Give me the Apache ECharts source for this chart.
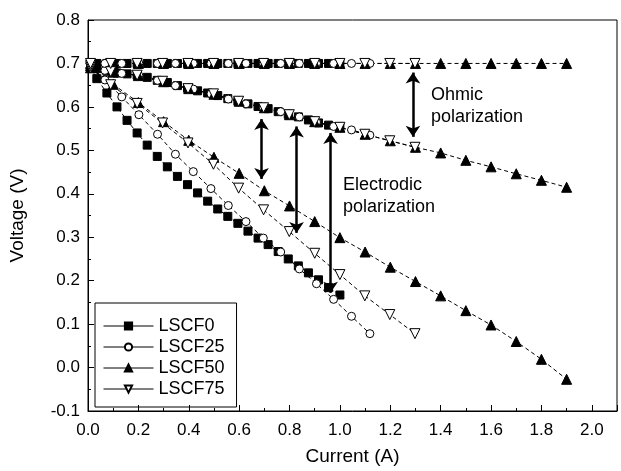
<!DOCTYPE html>
<html>
<head>
<meta charset="utf-8">
<script src="https://cdn.jsdelivr.net/npm/echarts@6/dist/echarts.min.js"></script>
<style>
  html, body { margin: 0; padding: 0; background: #fff; }
  #main { width: 621px; height: 471px; }
</style>
</head>
<body>
<div id="main"></div>
<script>
var FONT = 'Liberation Sans, Arial, sans-serif';

// LSCF0 (filled squares)
var lscf0Current = [0.01, 0.035, 0.075, 0.115, 0.155, 0.195, 0.235, 0.275, 0.315, 0.355, 0.395, 0.435, 0.475,
    0.515, 0.555, 0.595, 0.635, 0.675, 0.715, 0.755, 0.795, 0.835, 0.875, 0.915, 0.955, 1.0];
var lscf0Voltage = [0.690, 0.665, 0.632, 0.600, 0.569, 0.540, 0.512, 0.486, 0.462, 0.440, 0.421, 0.402, 0.383,
    0.365, 0.348, 0.332, 0.314, 0.298, 0.283, 0.267, 0.250, 0.234, 0.218, 0.202, 0.184, 0.167];
var lscf0IrFree = [0.695, 0.688, 0.682, 0.678, 0.676, 0.673, 0.668, 0.661, 0.656, 0.649, 0.643, 0.637, 0.632,
    0.626, 0.619, 0.613, 0.607, 0.601, 0.596, 0.589, 0.583, 0.577, 0.570, 0.563, 0.558, 0.553];
var lscf0Ocv = [0.70, 0.70, 0.70, 0.70, 0.70, 0.70, 0.70, 0.70, 0.70, 0.70, 0.70, 0.70, 0.70,
    0.70, 0.70, 0.70, 0.70, 0.70, 0.70, 0.70, 0.70, 0.70, 0.70, 0.70, 0.70, 0.70];

// LSCF25 (open circles)
var lscf25Current = [0.01, 0.067, 0.134, 0.202, 0.276, 0.347, 0.418, 0.488, 0.557, 0.627, 0.696, 0.765, 0.839,
    0.907, 0.975, 1.046, 1.119];
var lscf25Voltage = [0.690, 0.662, 0.623, 0.582, 0.537, 0.491, 0.451, 0.412, 0.373, 0.336, 0.298, 0.266, 0.227,
    0.193, 0.157, 0.118, 0.078];
var lscf25IrFree = [0.695, 0.684, 0.677, 0.672, 0.661, 0.649, 0.641, 0.630, 0.618, 0.607, 0.598, 0.589, 0.577,
    0.565, 0.555, 0.547, 0.535];
var lscf25Ocv = [0.70, 0.70, 0.70, 0.70, 0.70, 0.70, 0.70, 0.70, 0.70, 0.70, 0.70, 0.70, 0.70,
    0.70, 0.70, 0.70, 0.70];

// LSCF50 (filled triangles)
var lscf50Current = [0.01, 0.1, 0.2, 0.3, 0.4, 0.5, 0.6, 0.7, 0.8, 0.9, 1.0, 1.1, 1.2, 1.3, 1.4, 1.5, 1.6, 1.7, 1.8, 1.9];
var lscf50Voltage = [0.690, 0.652, 0.610, 0.566, 0.523, 0.484, 0.447, 0.407, 0.372, 0.336, 0.299, 0.266, 0.231,
    0.198, 0.165, 0.131, 0.098, 0.060, 0.019, -0.027];
var lscf50IrFree = [0.695, 0.680, 0.672, 0.658, 0.642, 0.629, 0.613, 0.598, 0.582, 0.566, 0.553, 0.537, 0.522,
    0.507, 0.494, 0.477, 0.462, 0.446, 0.431, 0.415];
var lscf50Ocv = [0.70, 0.70, 0.70, 0.70, 0.70, 0.70, 0.70, 0.70, 0.70, 0.70, 0.70, 0.70, 0.70,
    0.70, 0.70, 0.70, 0.70, 0.70, 0.70, 0.70];

// LSCF75 (open down triangles)
var lscf75Current = [0.01, 0.09, 0.195, 0.296, 0.397, 0.498, 0.598, 0.697, 0.799, 0.9, 1.0, 1.099, 1.198, 1.298];
var lscf75Voltage = [0.690, 0.651, 0.608, 0.563, 0.517, 0.468, 0.413, 0.363, 0.313, 0.263, 0.214, 0.165, 0.122, 0.078];
var lscf75IrFree = [0.695, 0.681, 0.673, 0.659, 0.642, 0.630, 0.613, 0.598, 0.582, 0.566, 0.553, 0.537, 0.522, 0.507];
var lscf75Ocv = [0.70, 0.70, 0.70, 0.70, 0.70, 0.70, 0.70, 0.70, 0.70, 0.70, 0.70, 0.70, 0.70, 0.70];

// double arrows: [current, top voltage, bottom voltage]
var arrowPositions = [
    [0.689, 0.572, 0.434],
    [0.828, 0.555, 0.310],
    [0.963, 0.540, 0.172],
    [1.290, 0.679, 0.531]
];

var seriesNames = ['LSCF0', 'LSCF25', 'LSCF50', 'LSCF75'];

function pairs(xs, ys) {
    return xs.map(function (x, i) { return [x, ys[i]]; });
}

var markerStyles = {
    LSCF0: { symbol: 'rect', size: 8, fill: '#000' },
    LSCF25: { symbol: 'circle', size: 8, fill: '#fff' },
    LSCF50: { symbol: 'triangle', size: 10, fill: '#000' },
    LSCF75: { symbol: 'path://M0,0 L10,0 L5,9 Z', size: 10, fill: '#fff' }
};

var curves = [
    ['LSCF0', lscf0Current, [lscf0Voltage, lscf0IrFree, lscf0Ocv]],
    ['LSCF25', lscf25Current, [lscf25Voltage, lscf25IrFree, lscf25Ocv]],
    ['LSCF50', lscf50Current, [lscf50Voltage, lscf50IrFree, lscf50Ocv]],
    ['LSCF75', lscf75Current, [lscf75Voltage, lscf75IrFree, lscf75Ocv]]
];

var series = [];
curves.forEach(function (c) {
    var m = markerStyles[c[0]];
    c[2].forEach(function (ys) {
        series.push({
            name: c[0],
            type: 'line',
            data: pairs(c[1], ys),
            symbol: m.symbol,
            symbolSize: m.size,
            showAllSymbol: true,
            itemStyle: { color: m.fill, borderColor: '#000', borderWidth: 1 },
            lineStyle: { color: '#000', width: 1, type: [4, 3] }
        });
    });
});

// arrows drawn in data coordinates
series.push({
    type: 'line',
    data: [],
    silent: true,
    markLine: {
        silent: true,
        symbol: ['arrow', 'arrow'],
        symbolSize: 11,
        label: { show: false },
        lineStyle: { color: '#000', width: 2.5, type: 'solid' },
        emphasis: { disabled: true },
        data: arrowPositions.map(function (a) {
            return [{ coord: [a[0], a[1]] }, { coord: [a[0], a[2]] }];
        })
    }
});

var myChart = echarts.init(document.getElementById('main'));
var option = {
    animation: false,
    backgroundColor: '#fff',
    grid: {
        left: 88, right: 4, top: 20, bottom: 60,
        show: true, borderColor: '#000', borderWidth: 1
    },
    legend: {
        data: seriesNames,
        orient: 'vertical',
        left: 95,
        top: 303,
        padding: [14, 12, 9, 8],
        itemGap: 3,
        itemWidth: 50,
        itemHeight: 9,
        borderColor: '#000',
        borderWidth: 1,
        lineStyle: { type: 'solid', width: 1, color: '#000' },
        textStyle: { fontFamily: FONT, fontSize: 18, color: '#000', lineHeight: 17 }
    },
    xAxis: {
        type: 'value',
        min: 0,
        max: 2.1,
        interval: 0.2,
        name: 'Current (A)',
        nameLocation: 'middle',
        nameGap: 36,
        nameTextStyle: { fontFamily: FONT, fontSize: 19, color: '#000' },
        axisLine: { onZero: false, lineStyle: { color: '#000', width: 1 } },
        axisTick: { inside: true, length: 6, lineStyle: { color: '#000' } },
        minorTick: { show: true, splitNumber: 2, length: 3, lineStyle: { color: '#000' } },
        splitLine: { show: false },
        axisLabel: {
            showMaxLabel: false,
            margin: 11,
            fontFamily: FONT, fontSize: 17, color: '#000',
            formatter: function (v) { return v.toFixed(1); }
        }
    },
    yAxis: {
        type: 'value',
        min: -0.1,
        max: 0.8,
        interval: 0.1,
        name: 'Voltage (V)',
        nameLocation: 'middle',
        nameGap: 61,
        nameTextStyle: { fontFamily: FONT, fontSize: 19, color: '#000' },
        axisLine: { onZero: false, lineStyle: { color: '#000', width: 1 } },
        axisTick: { inside: true, length: 6, lineStyle: { color: '#000' } },
        minorTick: { show: true, splitNumber: 2, length: 3, lineStyle: { color: '#000' } },
        splitLine: { show: false },
        axisLabel: {
            margin: 8,
            fontFamily: FONT, fontSize: 17, color: '#000',
            formatter: function (v) { return v.toFixed(1); }
        }
    },
    graphic: [
        {
            type: 'text', left: 431, top: 84,
            style: { text: 'Ohmic\npolarization', font: '18px ' + FONT, lineHeight: 22, fill: '#000' }
        },
        {
            type: 'text', left: 343, top: 174,
            style: { text: 'Electrodic\npolarization', font: '18px ' + FONT, lineHeight: 22, fill: '#000' }
        }
    ],
    series: series
};
myChart.setOption(option);
</script>
</body>
</html>
